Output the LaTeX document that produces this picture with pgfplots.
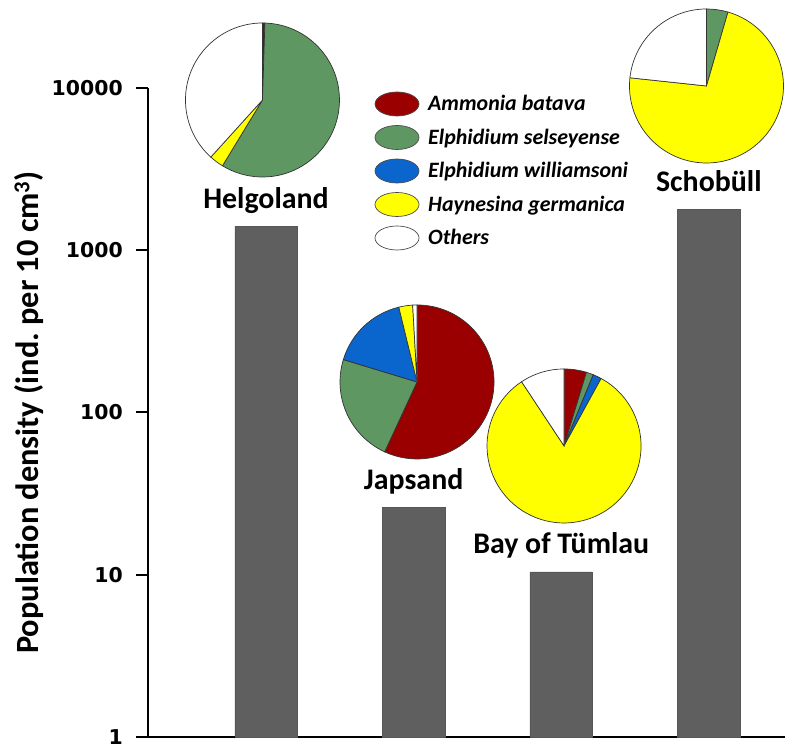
\documentclass[border=0pt]{standalone}
\usepackage{pgfplots}
\pgfplotsset{compat=1.18}
\usepackage{fontspec}
\setmainfont{Carlito}
\newfontfamily\dejavu{DejaVu Sans}
\definecolor{cAmm}{HTML}{9A0000}
\definecolor{cSel}{HTML}{5F9763}
\definecolor{cWil}{HTML}{0A66CC}
\definecolor{cHay}{HTML}{FFFF00}
\definecolor{cOth}{HTML}{FFFFFF}
\definecolor{barfill}{HTML}{5F5F5F}
\newcommand\drawpie[2]{%
  \gdef\cum{0}%
  \foreach \v/\c in {#2}{%
    \pgfmathsetmacro\sa{90-3.6*\cum}%
    \pgfmathsetmacro\ea{90-3.6*(\cum+\v)}%
    \filldraw[fill=\c, draw=black!80, line width=0.7bp] (#1) -- ++(\sa:77bp) arc[start angle=\sa, end angle=\ea, radius=77bp] -- cycle;
    \pgfmathsetmacro\tmp{\cum+\v}%
    \global\let\cum\tmp
  }%
}
\begin{document}
\begin{tikzpicture}
\begin{axis}[
  at={(148bp,12bp)}, anchor=south west,
  scale only axis, width=637bp, height=649bp,
  xmin=0.2005, xmax=4.516,
  ymode=log, ymin=1, ymax=10000,
  axis x line*=bottom, axis y line*=left,
  axis line style={line width=2.2bp, -},
  xtick=\empty,
  ytick={1,10,100,1000,10000},
  yticklabels={1,10,100,1000,10000},
  yminorticks=false,
  tick align=outside,
  major tick length=12bp,
  ytick style={line width=2bp, black},
  yticklabel style={font=\dejavu\bfseries\fontsize{20.5}{20.5}\selectfont, inner sep=0pt, anchor=east, xshift=-13bp},
  ylabel={Population density (ind.\ per 10 cm\textsuperscript{3})},
  ylabel style={at={(axis description cs:-0.187,0.5)}, anchor=center, font=\bfseries\fontsize{32.5}{32.5}\selectfont},
  ybar, bar width=62.5bp,
  clip=false,
  point meta=explicit symbolic,
  nodes near coords,
  every node near coord/.append style={anchor=base, yshift=18bp, inner sep=0pt, font=\bfseries\fontsize{30}{30}\selectfont, text=black},
]
\addplot[fill=barfill, draw=barfill!90!black, line width=0.5bp] coordinates {
  (1,1408) [Helgoland]
  (2,26.1) [Japsand]
  (3,10.4) [Bay of Tümlau]
  (4,1791) [Schobüll]
};
\coordinate (pH) at (axis cs:0.976,8433);
\coordinate (pJ) at (axis cs:2.023,154.2);
\coordinate (pT) at (axis cs:3.019,62.2);
\coordinate (pS) at (axis cs:3.984,10287);
\end{axis}
% pies: percentages per species (Ammonia, E. selseyense, E. williamsoni, H. germanica, Others)
\drawpie{pH}{0.5/cAmm, 58.2/cSel, 3.0/cHay, 38.3/cOth}
\drawpie{pJ}{56.9/cAmm, 22.8/cSel, 16.5/cWil, 2.9/cHay, 0.9/cOth}
\drawpie{pT}{4.7/cAmm, 1.5/cSel, 1.8/cWil, 82.7/cHay, 9.3/cOth}
\drawpie{pS}{4.5/cSel, 72.2/cHay, 23.3/cOth}
% legend
\begin{scope}[x=1bp,y=1bp]
\foreach \yy/\c/\t in {104/cAmm/Ammonia batava, 137.5/cSel/Elphidium selseyense, 171/cWil/Elphidium williamsoni, 204.5/cHay/Haynesina germanica, 238/cOth/Others}{
  \filldraw[fill=\c, draw=black!70, line width=0.7bp] (397,749-\yy) ellipse[x radius=22, y radius=12];
  \node[anchor=base west, inner sep=0pt, font=\bfseries\itshape\fontsize{22}{22}\selectfont] at (428,749-\yy-7) {\t};
}
\pgfresetboundingbox
\path (0,0) rectangle (785,749);
\end{scope}
\end{tikzpicture}
\end{document}
